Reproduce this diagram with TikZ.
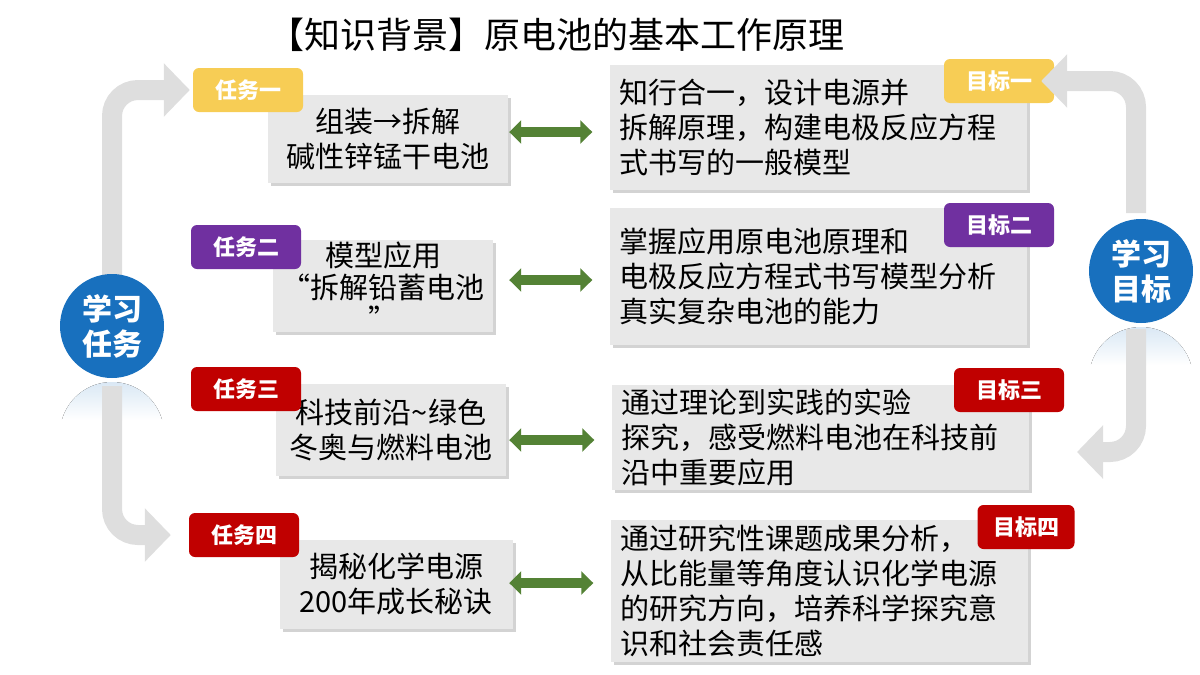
\documentclass[tikz,border=0pt]{standalone}
\usepackage{fontspec}
\setmainfont{Noto Sans CJK SC}
\usetikzlibrary{positioning, arrows.meta, shadows}

\definecolor{ringblue}{RGB}{24,112,190}
\definecolor{linkgreen}{RGB}{84,130,53}
\definecolor{flowgray}{RGB}{222,222,222}
\definecolor{boxgray}{RGB}{232,232,232}
\definecolor{tagyellow}{RGB}{247,205,85}
\definecolor{tagpurple}{RGB}{112,48,160}
\definecolor{tagred}{RGB}{192,0,0}

\begin{document}
\begin{tikzpicture}
	[x=1pt, y=-1pt,
	 taskbox/.style={fill=boxgray, drop shadow={shadow xshift=3pt, shadow yshift=-3pt, opacity=0.35}, align=center, inner sep=0pt, font=\fontsize{29}{35}\selectfont},
	 goalbox/.style={taskbox, align=left, text width=397pt, inner xsep=10pt},
	 tag/.style={rounded corners=6pt, text=white, minimum width=110pt, minimum height=44pt, inner sep=0pt, font=\fontsize{22}{26}\selectfont\bfseries},
	 ring/.style={circle, fill=ringblue, text=white, minimum size=104pt, inner sep=0pt, align=center, font=\fontsize{30}{35}\selectfont\bfseries},
	 link/.style={{Triangle[width=23pt,length=12pt]}-{Triangle[width=23pt,length=12pt]}, line width=10pt, draw=linkgreen},
	 flow/.style={-{Triangle[width=52pt,length=26pt]}, line width=20pt, draw=flowgray, rounded corners=26pt}]
   \useasboundingbox (0,0) rectangle (1200,675);
   \node (title) at (556,35) {\fontsize{36}{40}\selectfont 【知识背景】原电池的基本工作原理};

   % left: tasks
   \node[taskbox, minimum width=240pt, minimum height=88pt] (t_1) at (388,139) {组装→拆解\\碱性锌锰干电池};
   \node[taskbox, minimum width=220pt, minimum height=92pt, font=\fontsize{29}{32}\selectfont] (t_2) at (383,286) {模型应用\\“拆解铅蓄电池\\”};
   \node[taskbox, minimum width=230pt, minimum height=92pt] (t_3) at (391,430) {科技前沿\textasciitilde 绿色\\冬奥与燃料电池};
   \node[taskbox, minimum width=233pt, minimum height=89pt] (t_4) at (396,584) {揭秘化学电源\\200年成长秘诀};

   \node[tag, fill=tagyellow] (k_1) at (248,90) {任务一};
   \node[tag, fill=tagpurple] (k_2) at (246,247) {任务二};
   \node[tag, fill=tagred] (k_3) at (246,389) {任务三};
   \node[tag, fill=tagred] (k_4) at (244,535) {任务四};

   % right: goals
   \node[goalbox, minimum height=125pt] (g_1) at (818,127) {知行合一，设计电源并\\拆解原理，构建电极反应方程\\式书写的一般模型};
   \node[goalbox, minimum height=137pt] (g_2) at (818,276) {掌握应用原电池原理和\\电极反应方程式书写模型分析\\真实复杂电池的能力};
   \node[goalbox, minimum height=105pt] (g_3) at (820,437) {通过理论到实践的实验\\探究，感受燃料电池在科技前\\沿中重要应用};
   \node[goalbox, minimum height=142pt] (g_4) at (819,591) {通过研究性课题成果分析，\\从比能量等角度认识化学电源\\的研究方向，培养科学探究意\\识和社会责任感};

   \node[tag, fill=tagyellow] (m_1) at (999,81) {目标一};
   \node[tag, fill=tagpurple] (m_2) at (999,225) {目标二};
   \node[tag, fill=tagred] (m_3) at (1009,390) {目标三};
   \node[tag, fill=tagred, minimum width=97pt] (m_4) at (1026,527) {目标四};

   \foreach \i/\dy in {1/7,2/6,3/-10,4/1}
     \draw[link] ([xshift=1pt,yshift=\dy pt]t_\i.east -| t_1.east) -- ([xshift=-17pt,yshift=\dy pt]t_\i.east -| g_\i.west);

   % circles, reflections and gray arrows
   \coordinate (o_task) at (112,326);
   \coordinate (o_goal) at (1141,271);
   \coordinate (p_end) at (1077,452);
   \begin{scope}
     \clip (o_task) ++(0,108) circle (52pt);
     \fill[top color=ringblue!40, bottom color=white] ([xshift=-60pt]o_task) ++(0,56) rectangle ++(120,38);
   \end{scope}
   \begin{scope}
     \clip (o_goal) ++(0,108) circle (52pt);
     \fill[top color=ringblue!40, bottom color=white] ([xshift=-60pt]o_goal) ++(0,56) rectangle ++(120,38);
   \end{scope}

   \draw[flow] (o_task) |- ([xshift=-3pt]k_1.west);
   \draw[flow] ([yshift=-60pt]o_task) |- ([xshift=-18pt]k_4.west);
   \draw[flow] ([xshift=-5pt,yshift=58pt]o_goal) |- ([xshift=-13pt]m_1.east);
   \draw[flow] ([xshift=-5pt,yshift=-58pt]o_goal) |- (p_end);

   \node[ring] (c_task) at (o_task) {学习\\任务};
   \node[ring] (c_goal) at (o_goal) {学习\\目标};
\end{tikzpicture}
\end{document}
